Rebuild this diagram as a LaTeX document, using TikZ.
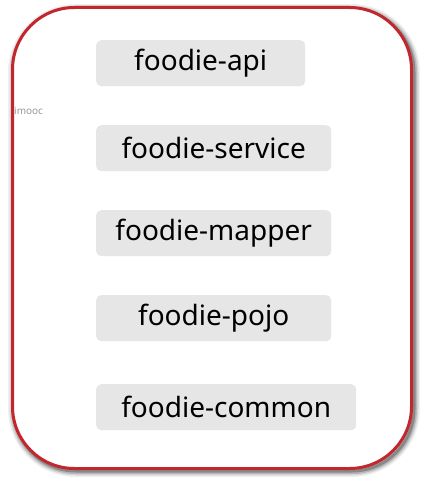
\documentclass[tikz,border=0pt]{standalone}
\usepackage{fontspec}
\setmainfont{Noto Sans}
\definecolor{frame}{HTML}{C1272D}
\definecolor{boxgray}{HTML}{E6E6E6}
\begin{document}
\begin{tikzpicture}[x=1pt,y=-1pt,
  module/.style={fill=boxgray,rounded corners=5pt,inner sep=0pt,font=\fontsize{28}{32}\selectfont}]
\useasboundingbox (0,0) rectangle (420,478);
\fill[white] (0,0) rectangle (420,478);
% shadow
\foreach \w/\o in {12/0.06,9/0.1,6/0.15,3/0.25}{
  \draw[black,opacity=\o,line width=\w pt,rounded corners=62pt] (14,10) rectangle (414,471);
}
\draw[frame,line width=3pt,fill=white,rounded corners=62pt] (12.5,7.5) rectangle (411.5,468.5);
\node[module,minimum width=209pt,minimum height=46pt,anchor=north west] (api) at (96,40) {foodie-api};
\node[module,minimum width=235pt,minimum height=46pt,anchor=north west] (service) at (96,125) {foodie-service};
\node[module,minimum width=235pt,minimum height=46pt,anchor=north west] (mapper) at (96,210) {foodie-mapper};
\node[module,minimum width=235pt,minimum height=46pt,anchor=north west] (pojo) at (96,295) {foodie-pojo};
\node[module,minimum width=260pt,minimum height=46pt,anchor=north west] (common) at (96,384) {foodie-common};
\node[anchor=west,inner sep=0pt,text=gray!80,font=\fontsize{10}{12}\selectfont] (imooc) at (14,111) {imooc};
\end{tikzpicture}
\end{document}
